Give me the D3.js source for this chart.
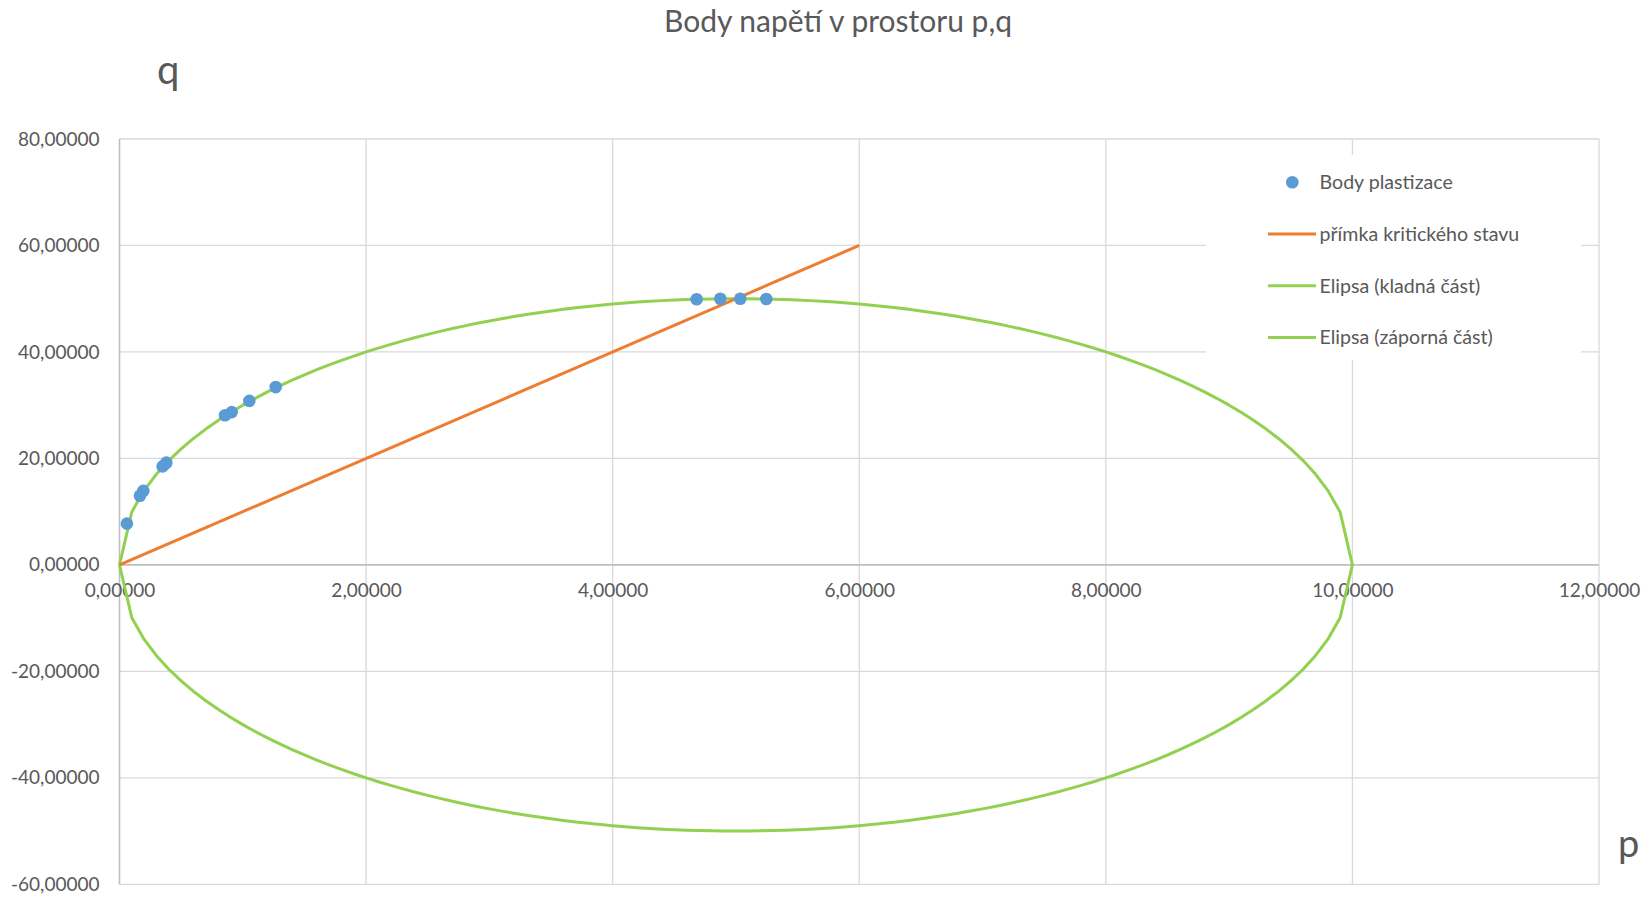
<!DOCTYPE html>
<html>
<head>
<meta charset="utf-8">
<script src="https://cdn.jsdelivr.net/npm/d3@7/dist/d3.min.js"></script>
<style>
    html, body { margin: 0; padding: 0; background: #fff; }
    svg text { font-family: Lato, "Open Sans", sans-serif; fill: #595959; }
</style>
</head>
<body>
<div id="chart"></div>
<script>
// ----------------------------------------------------------------------------
// Body napětí v prostoru p,q  -  scatter + kritický stav + elipsa
// ----------------------------------------------------------------------------

const xTicks = [0, 2, 4, 6, 8, 10, 12];
const yTicks = [-60, -40, -20, 0, 20, 40, 60, 80];

// body plastizace
const pointsP = [0.06, 0.166, 0.193, 0.35, 0.38, 0.856, 0.91, 1.053, 1.267, 4.681, 4.873, 5.035, 5.246];
const pointsQ = [7.75, 13.0, 13.9, 18.5, 19.2, 28.1, 28.7, 30.8, 33.4, 49.9, 49.98, 49.99, 49.94];

// přímka kritického stavu
const lineP = [0, 6];
const lineQ = [0, 60];

// elipsa - p sampled by 0.1
const ellipseP = [
    0.0, 0.1, 0.2, 0.3, 0.4, 0.5, 0.6, 0.7, 0.8, 0.9,
    1.0, 1.1, 1.2, 1.3, 1.4, 1.5, 1.6, 1.7, 1.8, 1.9,
    2.0, 2.1, 2.2, 2.3, 2.4, 2.5, 2.6, 2.7, 2.8, 2.9,
    3.0, 3.1, 3.2, 3.3, 3.4, 3.5, 3.6, 3.7, 3.8, 3.9,
    4.0, 4.1, 4.2, 4.3, 4.4, 4.5, 4.6, 4.7, 4.8, 4.9,
    5.0, 5.1, 5.2, 5.3, 5.4, 5.5, 5.6, 5.7, 5.8, 5.9,
    6.0, 6.1, 6.2, 6.3, 6.4, 6.5, 6.6, 6.7, 6.8, 6.9,
    7.0, 7.1, 7.2, 7.3, 7.4, 7.5, 7.6, 7.7, 7.8, 7.9,
    8.0, 8.1, 8.2, 8.3, 8.4, 8.5, 8.6, 8.7, 8.8, 8.9,
    9.0, 9.1, 9.2, 9.3, 9.4, 9.5, 9.6, 9.7, 9.8, 9.9,
    10.0
];
const ellipseQPos = [
    0.00, 9.95, 14.00, 17.06, 19.60, 21.79, 23.75, 25.51, 27.13, 28.62,
    30.00, 31.29, 32.50, 33.63, 34.70, 35.71, 36.66, 37.56, 38.42, 39.23,
    40.00, 40.73, 41.42, 42.08, 42.71, 43.30, 43.86, 44.40, 44.90, 45.38,
    45.83, 46.25, 46.65, 47.02, 47.37, 47.70, 48.00, 48.28, 48.54, 48.78,
    48.99, 49.18, 49.36, 49.51, 49.64, 49.75, 49.84, 49.91, 49.96, 49.99,
    50.00, 49.99, 49.96, 49.91, 49.84, 49.75, 49.64, 49.51, 49.36, 49.18,
    48.99, 48.78, 48.54, 48.28, 48.00, 47.70, 47.37, 47.02, 46.65, 46.25,
    45.83, 45.38, 44.90, 44.40, 43.86, 43.30, 42.71, 42.08, 41.42, 40.73,
    40.00, 39.23, 38.42, 37.56, 36.66, 35.71, 34.70, 33.63, 32.50, 31.29,
    30.00, 28.62, 27.13, 25.51, 23.75, 21.79, 19.60, 17.06, 14.00, 9.95,
    0.00
];
const ellipseQNeg = [
    0.00, -9.95, -14.00, -17.06, -19.60, -21.79, -23.75, -25.51, -27.13, -28.62,
    -30.00, -31.29, -32.50, -33.63, -34.70, -35.71, -36.66, -37.56, -38.42, -39.23,
    -40.00, -40.73, -41.42, -42.08, -42.71, -43.30, -43.86, -44.40, -44.90, -45.38,
    -45.83, -46.25, -46.65, -47.02, -47.37, -47.70, -48.00, -48.28, -48.54, -48.78,
    -48.99, -49.18, -49.36, -49.51, -49.64, -49.75, -49.84, -49.91, -49.96, -49.99,
    -50.00, -49.99, -49.96, -49.91, -49.84, -49.75, -49.64, -49.51, -49.36, -49.18,
    -48.99, -48.78, -48.54, -48.28, -48.00, -47.70, -47.37, -47.02, -46.65, -46.25,
    -45.83, -45.38, -44.90, -44.40, -43.86, -43.30, -42.71, -42.08, -41.42, -40.73,
    -40.00, -39.23, -38.42, -37.56, -36.66, -35.71, -34.70, -33.63, -32.50, -31.29,
    -30.00, -28.62, -27.13, -25.51, -23.75, -21.79, -19.60, -17.06, -14.00, -9.95,
    0.00
];

const legendLabels = ['Body plastizace', 'přímka kritického stavu', 'Elipsa (kladná část)', 'Elipsa (záporná část)'];

const COLORS = {
    points: '#5b9bd5',
    line: '#ed7d31',
    ellipse: '#92d050',
    grid: '#d9d9d9',
    axis: '#bfbfbf'
};

const width = 1650, height = 897;
const plot = { left: 119.5, right: 1599, top: 139, bottom: 884.3 };

const svg = d3.select('#chart').append('svg')
    .attr('width', width).attr('height', height);

const xScale = d3.scaleLinear().domain([0, 12]).range([plot.left, plot.right]);
const yScale = d3.scaleLinear().domain([-60, 80]).range([plot.bottom, plot.top]);

const fmt = d => d3.format('.5f')(d).replace('.', ',').replace('−', '-');

// Grid
svg.append('g').selectAll('line')
    .data(xTicks.filter(d => d !== 0))
    .join('line')
    .attr('x1', d => xScale(d)).attr('x2', d => xScale(d))
    .attr('y1', plot.top).attr('y2', plot.bottom)
    .attr('stroke', COLORS.grid).attr('stroke-width', 1.3);

svg.append('g').selectAll('line')
    .data(yTicks.filter(d => d !== 0))
    .join('line')
    .attr('x1', plot.left).attr('x2', plot.right)
    .attr('y1', d => yScale(d)).attr('y2', d => yScale(d))
    .attr('stroke', COLORS.grid).attr('stroke-width', 1.3);

// Axes (lines at p=0 and q=0)
svg.append('line')
    .attr('x1', xScale(0)).attr('x2', xScale(0))
    .attr('y1', plot.top).attr('y2', plot.bottom)
    .attr('stroke', COLORS.axis).attr('stroke-width', 1.6);

svg.append('line')
    .attr('x1', plot.left).attr('x2', plot.right)
    .attr('y1', yScale(0)).attr('y2', yScale(0))
    .attr('stroke', COLORS.axis).attr('stroke-width', 1.6);

// Tick labels
const xAxis = d3.axisBottom(xScale).tickValues(xTicks).tickFormat(fmt).tickSize(0).tickPadding(19);
const gx = svg.append('g')
    .attr('transform', `translate(0,${yScale(0)})`)
    .call(xAxis);
gx.select('.domain').remove();
gx.selectAll('text').style('font-size', '19px').attr('fill', '#595959');

const yAxis = d3.axisLeft(yScale).tickValues(yTicks).tickFormat(fmt).tickSize(0).tickPadding(20);
const gy = svg.append('g')
    .attr('transform', `translate(${plot.left},0)`)
    .call(yAxis);
gy.select('.domain').remove();
gy.selectAll('text').style('font-size', '19px').attr('fill', '#595959');

// Ellipse
const lineGen = d3.line().x(d => xScale(d[0])).y(d => yScale(d[1]));

svg.append('path')
    .datum(ellipseP.map((p, i) => [p, ellipseQNeg[i]]))
    .attr('d', lineGen)
    .attr('fill', 'none')
    .attr('stroke', COLORS.ellipse).attr('stroke-width', 3)
    .attr('stroke-linejoin', 'round');

svg.append('path')
    .datum(ellipseP.map((p, i) => [p, ellipseQPos[i]]))
    .attr('d', lineGen)
    .attr('fill', 'none')
    .attr('stroke', COLORS.ellipse).attr('stroke-width', 3)
    .attr('stroke-linejoin', 'round');

// Critical state line
svg.append('path')
    .datum(lineP.map((p, i) => [p, lineQ[i]]))
    .attr('d', lineGen)
    .attr('fill', 'none')
    .attr('stroke', COLORS.line).attr('stroke-width', 3);

// Points
svg.append('g').selectAll('circle')
    .data(pointsP.map((p, i) => [p, pointsQ[i]]))
    .join('circle')
    .attr('cx', d => xScale(d[0]))
    .attr('cy', d => yScale(d[1]))
    .attr('r', 6.3)
    .attr('fill', COLORS.points);

// Legend
const legend = svg.append('g');
legend.append('rect')
    .attr('x', 1206).attr('y', 155)
    .attr('width', 375).attr('height', 205)
    .attr('fill', '#fff');

legendLabels.forEach((label, i) => {
    const cy = 182.3 + i * 51.7;
    if (i === 0) {
        legend.append('circle')
            .attr('cx', 1292.3).attr('cy', cy).attr('r', 6.3)
            .attr('fill', COLORS.points);
    } else {
        legend.append('line')
            .attr('x1', 1268).attr('x2', 1316)
            .attr('y1', cy).attr('y2', cy)
            .attr('stroke', i === 1 ? COLORS.line : COLORS.ellipse)
            .attr('stroke-width', 3);
    }
    legend.append('text')
        .attr('x', 1319.5).attr('y', cy)
        .attr('dy', '0.35em')
        .style('font-size', '19.6px')
        .text(label);
});

// Title and axis names
svg.append('text')
    .attr('x', 838).attr('y', 32)
    .attr('text-anchor', 'middle')
    .style('font-size', '30px')
    .text('Body napětí v prostoru p,q');

svg.append('text')
    .attr('x', 157).attr('y', 84)
    .style('font-size', '40px')
    .text('q');

svg.append('text')
    .attr('x', 1618).attr('y', 857)
    .style('font-size', '38px')
    .text('p');
</script>
</body>
</html>
